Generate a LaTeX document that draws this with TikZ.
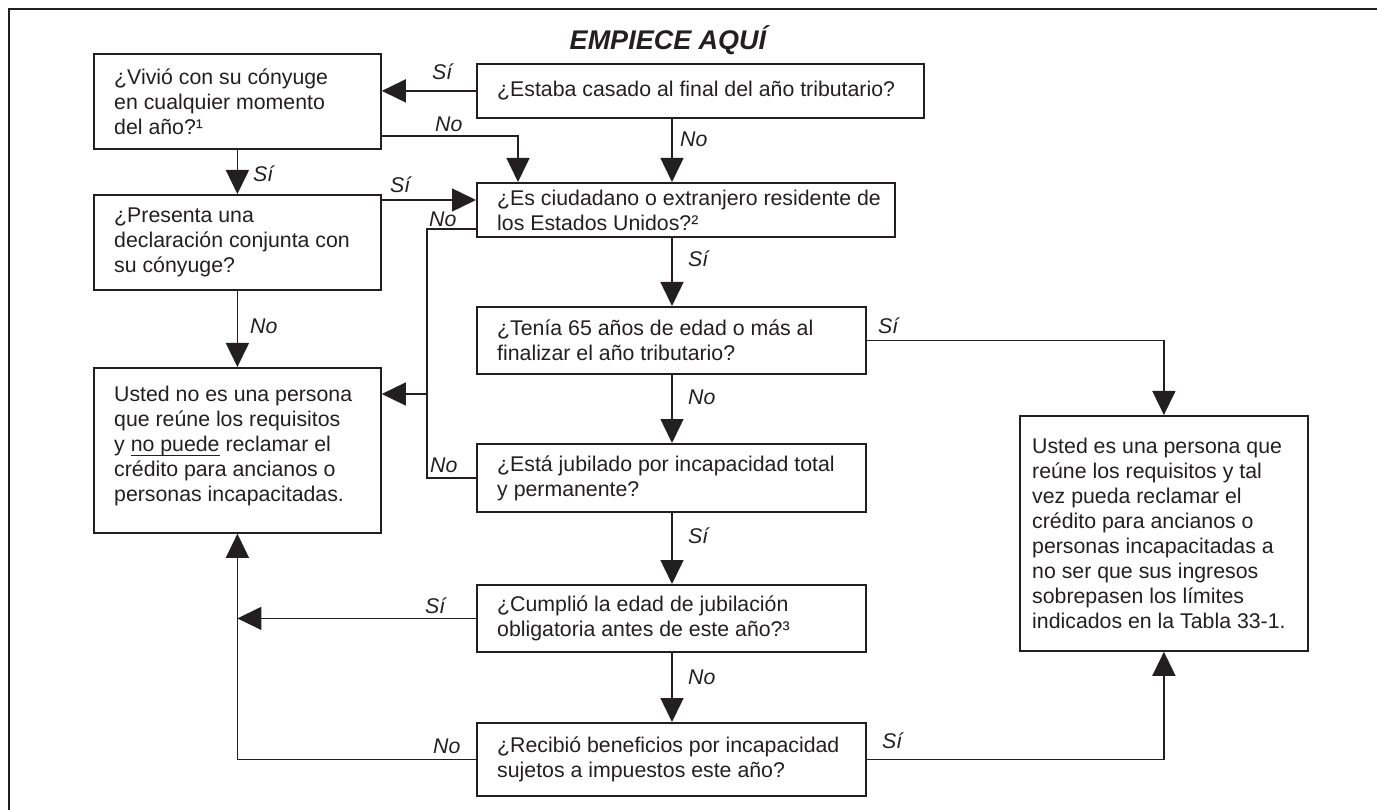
\documentclass[tikz,border=0pt]{standalone}
\usepackage{fontspec}
\setmainfont{Liberation Sans}
\usetikzlibrary{arrows.meta}
\definecolor{ink}{RGB}{35,31,32}
\newcommand{\bxfont}{\fontsize{21.3}{25}\selectfont}
\newsavebox{\undlbox}
\newcommand{\undl}[1]{\sbox{\undlbox}{#1}\rlap{\rule[-4pt]{\wd\undlbox}{1pt}}\usebox{\undlbox}}
\begin{document}
\begin{tikzpicture}[x=1pt,y=-1pt,
  box/.style={draw=ink,line width=1.8pt,anchor=north west,inner sep=0pt},
  qtext/.style={font=\bxfont,align=left,inner sep=0pt,text=ink,anchor=west},
  lbl/.style={font=\bxfont\itshape,inner sep=0pt,text=ink,anchor=base west},
  conn/.style={draw=ink,line width=1.5pt},
  arr/.style={conn,-{Triangle[length=24pt,width=23pt]}},
]
\useasboundingbox (0,0) rectangle (1377,810);
\draw[ink,line width=2.2pt] (1377,9) -- (9,9) -- (9,810);

% title
\node[font=\fontsize{27}{30}\selectfont\bfseries\itshape,text=ink,anchor=base,inner sep=0pt] (T) at (668,50) {EMPIECE AQUÍ};

% boxes
\node[box,minimum width=287pt,minimum height=95pt] (A) at (93,53) {};
\node[box,minimum width=287pt,minimum height=95pt] (B) at (93,194) {};
\node[box,minimum width=287pt,minimum height=165pt] (N) at (93,367) {};
\node[box,minimum width=447pt,minimum height=54pt] (C) at (476,63) {};
\node[box,minimum width=418pt,minimum height=54pt] (D) at (476,182) {};
\node[box,minimum width=389pt,minimum height=67pt] (E) at (476,306) {};
\node[box,minimum width=389pt,minimum height=68pt] (F) at (476,443) {};
\node[box,minimum width=389pt,minimum height=67pt] (G) at (476,584) {};
\node[box,minimum width=389pt,minimum height=73pt] (H) at (476,722) {};
\node[box,minimum width=288pt,minimum height=235pt] (Y) at (1019,415) {};

% box texts
\node[qtext,xshift=21pt] (At) at (A.west) {¿Vivió con su cónyuge\\en cualquier momento\\del año?¹};
\node[qtext,xshift=21pt] (Bt) at (B.west) {¿Presenta una\\declaración conjunta con\\su cónyuge?};
\node[qtext,xshift=21pt,yshift=4pt] (Nt) at (N.west) {Usted no es una persona\\que reúne los requisitos\\y \undl{no puede} reclamar el\\crédito para ancianos o\\personas incapacitadas.};
\node[qtext,xshift=21pt] (Ct) at (C.west) {¿Estaba casado al final del año tributario?};
\node[qtext,xshift=21pt] (Dt) at (D.west) {¿Es ciudadano o extranjero residente de\\los Estados Unidos?²};
\node[qtext,xshift=21pt] (Et) at (E.west) {¿Tenía 65 años de edad o más al\\finalizar el año tributario?};
\node[qtext,xshift=21pt] (Ft) at (F.west) {¿Está jubilado por incapacidad total\\y permanente?};
\node[qtext,xshift=21pt] (Gt) at (G.west) {¿Cumplió la edad de jubilación\\obligatoria antes de este año?³};
\node[qtext,xshift=21pt] (Ht) at (H.west) {¿Recibió beneficios por incapacidad\\sujetos a impuestos este año?};
\node[qtext,xshift=13pt] (Yt) at (Y.west) {Usted es una persona que\\reúne los requisitos y tal\\vez pueda reclamar el\\crédito para ancianos o\\personas incapacitadas a\\no ser que sus ingresos\\sobrepasen los límites\\indicados en la Tabla 33-1.};

% helper coordinates
\coordinate (cx) at (672,0);
\coordinate (a1) at (518,136);
\coordinate (b1) at (0,200);
\coordinate (j1) at (427,229);
\coordinate (j2) at (427,394);

% connectors
\draw[arr] (C.west) -- (C.west -| A.east);
\draw[arr] (A.east |- a1) -- (a1) -- (a1 |- D.north);
\draw[arr] (C.south -| cx) -- (D.north -| cx);
\draw[arr] (A.south) -- (B.north);
\draw[arr] (B.east |- b1) -- (D.west |- b1);
\draw[conn] (D.west |- j1) -- (j1) -- (F.west -| j1) -- (F.west);
\draw[arr] (j2) -- (N.east |- j2);
\draw[arr] (B.south) -- (N.north);
\draw[arr] (D.south -| cx) -- (E.north -| cx);
\draw[arr] (E.south -| cx) -- (F.north -| cx);
\draw[arr] (F.south -| cx) -- (G.north -| cx);
\draw[arr] (G.south -| cx) -- (H.north -| cx);
\draw[arr] (G.west) -- (G.west -| N.south);
\draw[arr] (H.west) -- (H.west -| N.south) -- (N.south);
\draw[arr] (E.east) -- (E.east -| Y.north) -- (Y.north);
\draw[arr] (H.east) -- (H.east -| Y.south) -- (Y.south);

% labels
\node[lbl] (l1) at (432,80) {Sí};
\node[lbl] (l2) at (435,132) {No};
\node[lbl] (l3) at (680,147) {No};
\node[lbl] (l4) at (253,182) {Sí};
\node[lbl] (l5) at (390,193) {Sí};
\node[lbl] (l6) at (429,227) {No};
\node[lbl] (l7) at (250,334) {No};
\node[lbl] (l8) at (878,334) {Sí};
\node[lbl] (l9) at (430,472) {No};
\node[lbl] (l10) at (425,613) {Sí};
\node[lbl] (l11) at (433,753) {No};
\node[lbl] (l12) at (882,748) {Sí};
\node[lbl] (l13) at (688,267) {Sí};
\node[lbl] (l14) at (688,405) {No};
\node[lbl] (l15) at (688,543) {Sí};
\node[lbl] (l16) at (688,684) {No};
\end{tikzpicture}
\end{document}
